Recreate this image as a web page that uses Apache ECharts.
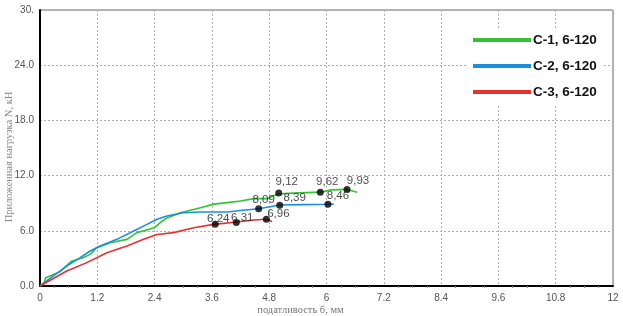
<!DOCTYPE html>
<html><head><meta charset="utf-8">
<script src="https://cdn.jsdelivr.net/npm/echarts@6/dist/echarts.min.js"></script>
<style>html,body{margin:0;padding:0;background:#fff}#c{width:623px;height:316px}</style>
</head><body><div id="c"></div>
<script>
// Series names
const seriesNames = ['C-1, 6-120', 'C-2, 6-120', 'C-3, 6-120'];
// Curve C-1 (green): displacement (mm), load (kN)
const c1X = [0, 0.08, 0.12, 0.42, 0.66, 0.91, 1.05, 1.19, 1.47, 1.82, 2.03, 2.38, 2.52, 2.66, 2.94, 3.36, 3.64, 3.92, 4.2, 4.48, 4.76, 4.98, 5.3, 5.87, 6.1, 6.43, 6.64];
const c1Y = [0, 0.3, 0.9, 1.56, 2.7, 3.1, 3.44, 4.17, 4.7, 5.07, 5.8, 6.3, 6.9, 7.4, 7.97, 8.5, 8.9, 9.06, 9.24, 9.5, 9.5, 10.0, 10.1, 10.2, 10.45, 10.5, 10.2];
// Curve C-2 (blue)
const c2X = [0, 0.28, 0.56, 0.84, 1.05, 1.26, 1.61, 1.96, 2.24, 2.45, 2.66, 3.0, 3.36, 3.92, 4.2, 4.58, 5.02, 5.5, 6.03, 6.15];
const c2Y = [0, 1.09, 2.17, 3.08, 3.8, 4.35, 5.07, 5.98, 6.7, 7.25, 7.6, 7.97, 8.04, 8.04, 8.2, 8.4, 8.8, 8.85, 8.88, 8.9];
// Curve C-3 (red)
const c3X = [0, 0.56, 0.98, 1.4, 1.82, 2.17, 2.45, 2.8, 3.22, 3.64, 4.13, 4.48, 4.73, 4.86];
const c3Y = [0, 1.63, 2.54, 3.62, 4.35, 5.07, 5.6, 5.8, 6.34, 6.7, 6.96, 7.17, 7.25, 7.0];
// Marked points with their labels
const m1X = [5.0, 5.87, 6.43];
const m1Y = [10.1, 10.2, 10.5];
const m1L = ['9,12', '9,62', '9,93'];
const m2X = [4.58, 5.02, 6.03];
const m2Y = [8.4, 8.77, 8.88];
const m2L = ['8,09', '8,39', '8,46'];
const m3X = [3.67, 4.11, 4.74];
const m3Y = [6.7, 6.9, 7.25];
const m3L = ['6,24', '6,31', '6,96'];
// Tick labels
const xTickLabels = ['0', '1.2', '2.4', '3.6', '4.8', '6', '7.2', '8.4', '9.6', '10.8', '12'];
const yTickLabels = ['0.0', '6.0', '12.0', '18.0', '24.0', '30.'];
const xTitle = 'податливость б, мм';
const yTitle = 'Приложенная нагрузка N, кН';

const colors = ['#33c233', '#1a8fe0', '#e8302f'];
const zip = (xs, ys) => xs.map((x, i) => [x, ys[i]]);
const zipL = (xs, ys, ls) => xs.map((x, i) => ({value: [x, ys[i]], name: ls[i]}));

// label centre offset from its point, in pixels
const labelOffsets = {
  '9,12': [8, -11], '9,62': [7, -10], '9,93': [11, -9],
  '8,09': [5, -9], '8,39': [15, -7], '8,46': [10, -8],
  '6,24': [3, -6], '6,31': [6, -5], '6,96': [12, -5]
};
function markerSeries(xs, ys, ls) {
  return {
    type: 'scatter', symbol: 'circle', symbolSize: 7, z: 5,
    itemStyle: {color: '#000'},
    data: zipL(xs, ys, ls),
    label: {show: true, position: 'inside', formatter: p => p.name,
      color: '#1a1a1a', fontFamily: 'Liberation Sans, Arial', fontSize: 11.5},
    labelLayout: (p) => {
      const o = labelOffsets[ls[p.dataIndex]];
      return {dx: o[0], dy: o[1], hideOverlap: false};
    },
    silent: true
  };
}
const lineSeries = (name, xs, ys, c) => ({
  name, type: 'line', data: zip(xs, ys), showSymbol: false, symbol: 'none',
  lineStyle: {color: c, width: 1.6}, itemStyle: {color: c}, z: 3
});

const chart = echarts.init(document.getElementById('c'), null, {renderer: 'canvas'});
chart.setOption({
  animation: false,
  backgroundColor: '#fff',
  grid: {left: 40, right: 10, top: 10, bottom: 30, containLabel: false, outerBoundsMode: 'none',
    show: true, borderColor: '#666', borderWidth: 1},
  legend: {
    orient: 'vertical', left: 468, top: 28, itemWidth: 58, itemHeight: 4, itemGap: 12,
    icon: 'rect', data: seriesNames,
    textStyle: {fontFamily: 'Liberation Sans, Arial', fontWeight: 'bold', fontSize: 13.5, color: '#111', padding: [0, 0, 0, -3]},
    backgroundColor: '#fff'
  },
  xAxis: {
    type: 'value', min: 0, max: 12, interval: 1.2,
    name: xTitle, nameLocation: 'middle', nameGap: 19, nameMoveOverlap: false,
    nameTextStyle: {fontFamily: 'Liberation Serif, Times New Roman', fontSize: 10.5, color: '#777', padding: [0, 52, 0, 0]},
    axisLine: {show: true, lineStyle: {color: '#000', width: 2}},
    axisTick: {show: false},
    minorTick: {show: true, splitNumber: 4, length: 2, lineStyle: {color: '#888'}},
    axisLabel: {formatter: (v) => xTickLabels[Math.round(v / 1.2)], color: '#555', fontFamily: 'Liberation Sans, Arial', fontSize: 10, margin: 7, showMaxLabel: true},
    splitLine: {show: true, lineStyle: {color: '#b0b0b0', type: [2, 2], width: 1}}
  },
  yAxis: {
    type: 'value', min: 0, max: 30, interval: 6,
    name: yTitle, nameLocation: 'middle', nameGap: 25, nameMoveOverlap: false,
    nameTextStyle: {fontFamily: 'Liberation Serif, Times New Roman', fontSize: 10.5, color: '#888', padding: [0, 18, 0, 0]},
    axisLine: {show: true, lineStyle: {color: '#000', width: 2}},
    axisTick: {show: false},
    axisLabel: {formatter: (v) => yTickLabels[Math.round(v / 6)], color: '#555', fontFamily: 'Liberation Sans, Arial', fontSize: 10, margin: 6},
    splitLine: {show: true, lineStyle: {color: '#b0b0b0', type: [2, 2], width: 1}}
  },
  series: [
    lineSeries(seriesNames[0], c1X, c1Y, colors[0]),
    lineSeries(seriesNames[1], c2X, c2Y, colors[1]),
    lineSeries(seriesNames[2], c3X, c3Y, colors[2]),
    markerSeries(m1X, m1Y, m1L),
    markerSeries(m2X, m2Y, m2L),
    markerSeries(m3X, m3Y, m3L)
  ]
});
</script></body></html>
